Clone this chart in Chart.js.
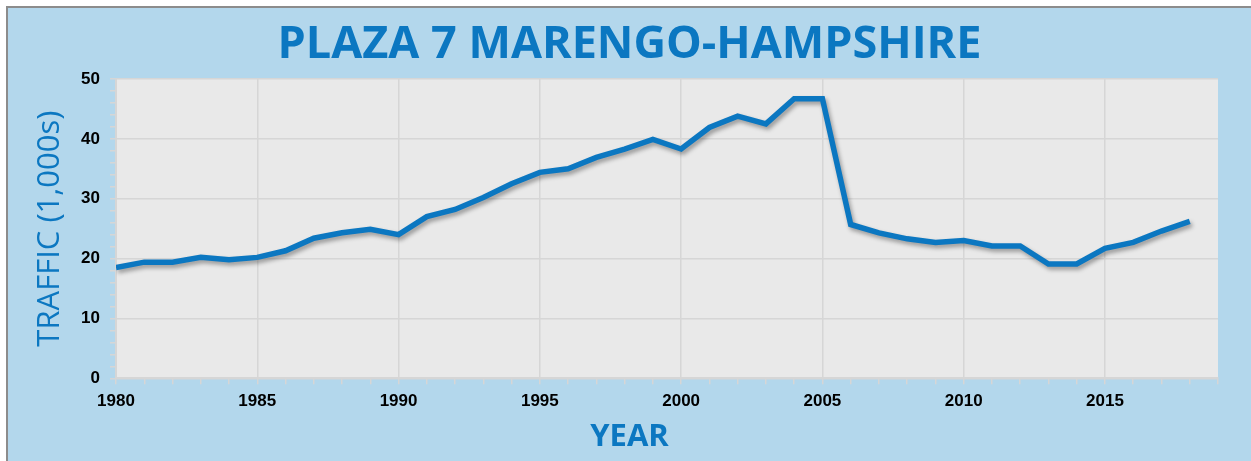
<!DOCTYPE html>
<html>
<head>
<meta charset="utf-8">
<script src="https://cdn.jsdelivr.net/npm/chart.js@4.4.1/dist/chart.umd.min.js"></script>
<style>
    html, body { margin: 0; padding: 0; background: #ffffff; overflow: hidden; }
    #frame {
        position: absolute; left: 6px; top: 6px;
        width: 1243px; height: 453px;
        border-left: 2px solid #8c8c8c; border-top: 2px solid #8c8c8c;
        background: #b3d7ec;
    }
    canvas { display: block; }
</style>
</head>
<body>
<div id="frame"><canvas id="trafficChart" width="1243" height="453"></canvas></div>
<script>
const years = [1980, 1981, 1982, 1983, 1984, 1985, 1986, 1987, 1988, 1989,
               1990, 1991, 1992, 1993, 1994, 1995, 1996, 1997, 1998, 1999,
               2000, 2001, 2002, 2003, 2004, 2005, 2006, 2007, 2008, 2009,
               2010, 2011, 2012, 2013, 2014, 2015, 2016, 2017, 2018];
const traffic = [18.5, 19.4, 19.4, 20.2, 19.8, 20.2, 21.3, 23.4, 24.3, 24.9,
                 24.0, 27.0, 28.2, 30.2, 32.5, 34.4, 35.0, 36.9, 38.3, 39.9,
                 38.3, 41.9, 43.8, 42.5, 46.7, 46.7, 25.7, 24.3, 23.3, 22.7,
                 23.0, 22.1, 22.1, 19.1, 19.1, 21.7, 22.7, 24.6, 26.2];
const yearRange = [1980, 2019];
const trafficRange = [0, 50];

const blue = "#0b77c1";
const gridGray = "#d6d6d6";
const tickFont = { family: "'Liberation Sans', Arial, sans-serif", size: 17, weight: "bold" };

// plot background + shadow under the line
const plotBackground = {
    id: "plotBackground",
    beforeDraw(chart) {
        const {ctx, chartArea} = chart;
        ctx.save();
        ctx.fillStyle = "#e9e9e9";
        ctx.fillRect(chartArea.left, chartArea.top, chartArea.right - chartArea.left, chartArea.bottom - chartArea.top);
        ctx.restore();
    },
    beforeDatasetDraw(chart) {
        const ctx = chart.ctx;
        ctx.save();
        ctx.shadowColor = "rgba(0,0,0,0.35)";
        ctx.shadowBlur = 4;
        ctx.shadowOffsetX = 2;
        ctx.shadowOffsetY = 3;
    },
    afterDatasetDraw(chart) {
        chart.ctx.restore();
    }
};

new Chart(document.getElementById("trafficChart"), {
    type: "line",
    data: {
        datasets: [{
            data: years.map((y, i) => ({x: y, y: traffic[i]})),
            borderColor: blue,
            borderWidth: 5.5,
            pointRadius: 0,
            tension: 0,
            fill: false
        }]
    },
    options: {
        responsive: false,
        devicePixelRatio: 1,
        animation: false,
        layout: { padding: 0 },
        plugins: {
            legend: { display: false },
            tooltip: { enabled: false },
            title: {
                display: true,
                text: "PLAZA 7 MARENGO-HAMPSHIRE",
                color: blue,
                font: { family: "'Open Sans', sans-serif", size: 45, weight: "bold" },
                padding: { top: 10, bottom: 7 }
            },
            subtitle: {
                display: true,
                position: "bottom",
                text: "YEAR",
                color: blue,
                font: { family: "'Open Sans', sans-serif", size: 31, weight: "bold" },
                padding: { top: 0, bottom: 5 }
            }
        },
        scales: {
            x: {
                type: "linear",
                min: yearRange[0],
                max: yearRange[1],
                afterFit(scale) { scale.height = 40.5; },
                border: { color: gridGray, width: 2 },
                grid: {
                    color: c => (c.tick && c.tick.value % 5 === 0) ? gridGray : "rgba(0,0,0,0)",
                    tickColor: gridGray,
                    lineWidth: 1.5,
                    tickLength: 6
                },
                ticks: {
                    stepSize: 1,
                    autoSkip: false,
                    maxRotation: 0,
                    maxTicksLimit: 100,
                    padding: 7,
                    color: "#000000",
                    font: tickFont,
                    callback: v => v % 5 === 0 ? String(v) : ""
                }
            },
            y: {
                min: trafficRange[0],
                max: trafficRange[1],
                afterFit(scale) { scale.width = 108; },
                border: { color: gridGray, width: 2 },
                grid: {
                    color: c => (c.tick && c.tick.value % 10 === 0) ? gridGray : "rgba(0,0,0,0)",
                    tickColor: gridGray,
                    lineWidth: 1.5,
                    tickLength: 6
                },
                ticks: {
                    stepSize: 2,
                    autoSkip: false,
                    maxTicksLimit: 100,
                    padding: 10,
                    color: "#000000",
                    font: tickFont,
                    callback: v => v % 10 === 0 ? String(v) : ""
                },
                title: {
                    display: true,
                    text: "TRAFFIC (1,000s)",
                    color: blue,
                    font: { family: "'Open Sans', sans-serif", size: 31, weight: "normal" },
                    padding: { top: 24, bottom: 0 }
                }
            },
            // empty right-hand strip so the plot stops short of the frame
            spacer: {
                position: "right",
                display: true,
                afterFit(scale) { scale.width = 33; },
                grid: { display: false },
                border: { display: false },
                ticks: { display: false }
            }
        }
    },
    plugins: [plotBackground]
});
</script>
</body>
</html>
